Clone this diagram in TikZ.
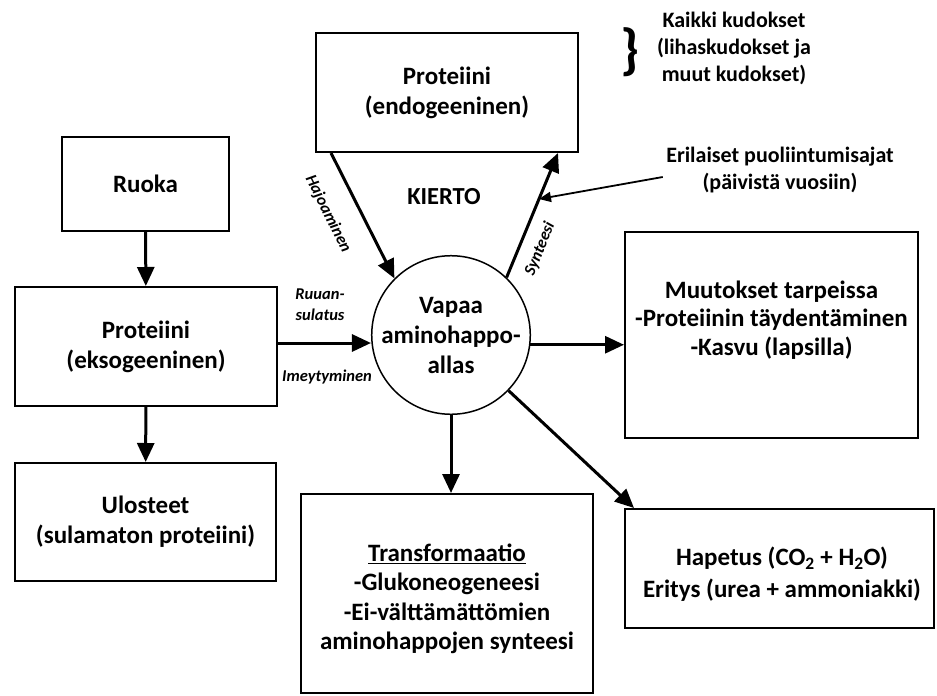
\documentclass[tikz,border=0pt]{standalone}
\usepackage{fontspec}
\setmainfont{Carlito}
\usepackage{tikz}
\usetikzlibrary{positioning,arrows.meta,calc}

\begin{document}
\begin{tikzpicture}[x=1pt, y=-1pt,
		scatola/.style={draw, line width=2pt, inner sep=0pt, align=center, font=\fontsize{25}{30}\selectfont\bfseries},
		testo/.style={align=center, font=\fontsize{25}{29.5}\selectfont\bfseries},
		freccia/.style={line width=3pt, -{Triangle[length=19pt,width=17pt]}},
		etichetta/.style={align=center, font=\fontsize{16.5}{21}\selectfont\bfseries\itshape},
		nota/.style={align=center, font=\fontsize{22}{27}\selectfont\bfseries}]
			
			\useasboundingbox (0,0) rectangle (937,696);
			
			% Colonna di sinistra
			\node[scatola, minimum width=167, minimum height=94] (ruoka) at (145.5,184) {Ruoka};
			\node[scatola, minimum width=262, minimum height=119] (eksog) at (146,346.5) {Proteiini\\(eksogeeninen)};
			\node[scatola, minimum width=261, minimum height=118] (ulost) at (145.5,522) {Ulosteet\\(sulamaton proteiini)};
			
			% Proteiini in alto
			\node[scatola, minimum width=262, minimum height=119] (endo) at (447,92.5) {Proteiini\\(endogeeninen)};
			
			% Allas al centro
			\node[draw, circle, line width=1.5pt, inner sep=0pt, minimum size=158, align=center,
				font=\fontsize{25}{30}\selectfont\bfseries] (allas) at (451,335) {Vapaa\\aminohappo-\\allas};
			
			% Scatole a destra e in basso
			\node[scatola, minimum width=293, minimum height=206] (muut) at (771.5,335) {};
			\node[testo, font=\fontsize{25}{28.5}\selectfont\bfseries] (muuttxt) at (771.5,320) {Muutokset tarpeissa\\-Proteiinin täydentäminen\\-Kasvu (lapsilla)};
			\node[scatola, minimum width=292, minimum height=199] (trans) at (447,593.5) {};
			\node[testo] (transtxt) at (447,599) {\underline{Transformaatio}\\-Glukoneogeneesi\\-Ei-välttämättömien\\aminohappojen synteesi};
			\node[scatola, minimum width=309, minimum height=119] (hapet) at (779.5,568.5) {};
			\node[testo, font=\fontsize{25}{32}\selectfont\bfseries] (hapettxt) at (782,574) {Hapetus (CO\textsubscript{2} + H\textsubscript{2}O)\\Eritys (urea + ammoniakki)};
			
			% Frecce
			\draw[freccia] (ruoka) -- (eksog);
			\draw[freccia] (eksog) -- (ulost);
			\draw[freccia] ([yshift=3.5pt]eksog.east) -- ([yshift=3.5pt]eksog.east -| allas.west);
			\draw[freccia] ([xshift=16pt]endo.south west) -- (allas.135);
			\draw[freccia] (allas.46) -- ([xshift=-21pt]endo.south east);
			\draw[freccia] (allas.-7) -- (allas.-7 -| muut.west);
			\draw[freccia] (allas.south) -- (allas.south |- trans.north);
			\draw[freccia] (allas.-44) -- ([xshift=10pt]hapet.north west);
			
			% Etichette delle frecce
			\node[etichetta, rotate=-63.4] (hajo) at (328,214) {Hajoaminen};
			\node[etichetta, rotate=68] (synt) at (540,249) {Synteesi};
			\node[etichetta] (ruuan) at (320,305) {Ruuan-\\sulatus};
			\node[etichetta] (imey) at (327,377) {Imeytyminen};
			\node[font=\fontsize{24.5}{28}\selectfont\bfseries] (kierto) at (444,197) {KIERTO};
			
			% Note in alto a destra
			\node[font=\fontsize{56}{56}\selectfont\bfseries] (graffa) at (630,52) {\}};
			\node[nota] (kudokset) at (734,48) {Kaikki kudokset\\(lihaskudokset ja\\muut kudokset)};
			\node[nota] (puoli) at (780,170) {Erilaiset puoliintumisajat\\(päivistä vuosiin)};
			\draw[line width=1.8pt, -{Triangle[length=12pt,width=10pt]}] ([yshift=-7pt]puoli.west) -- ($(allas.46)!0.63!([xshift=-21pt]endo.south east)$);
			
		\end{tikzpicture}
\end{document}
